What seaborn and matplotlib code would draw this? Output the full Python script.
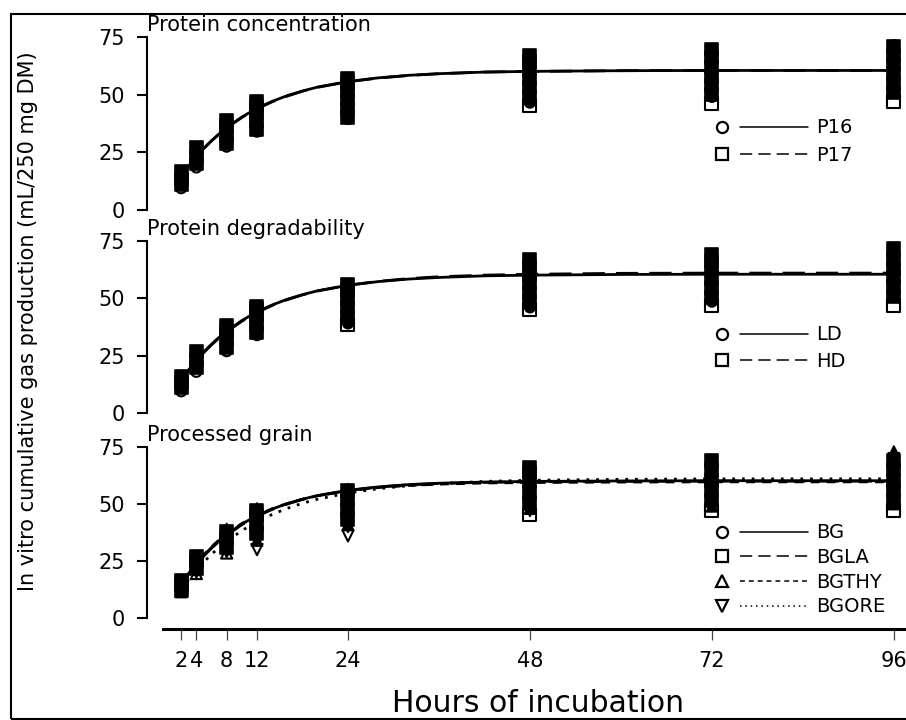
import pandas as pd
import matplotlib
matplotlib.use("Agg")
import matplotlib.pyplot as plt
import seaborn as sns
from matplotlib.lines import Line2D
from matplotlib.patches import Rectangle
from matplotlib.legend_handler import HandlerBase

# sampling times (h)
hours = [2, 4, 8, 12, 24, 48, 72, 96]
hour_labels = ["2", "4", "8", "12", "24", "48", "72", "96"]

# observed gas (mL/250 mg DM), one list per sampling time
p16_obs = [[9.5, 12, 14.5, 16], [18.5, 21, 23.5, 26], [27.5, 30.5, 33.5, 36.5, 38.5],
           [34, 37, 40, 43, 46], [39.5, 43, 46.5, 50, 53.5, 56.5], [46.5, 50, 54, 58, 62, 66],
           [49, 52.5, 56, 60, 64, 68], [54, 57, 60.5, 64, 67.5, 71.5]]
p17_obs = [[11, 13.5, 16.5], [20, 23, 27], [29, 32.5, 36, 39], [35, 38.5, 42, 45, 47],
           [40, 44, 48, 52, 55, 57], [45.5, 49, 53, 57, 61, 64.5, 67],
           [46, 50, 54, 58, 62, 66, 69.5], [47, 51, 55, 59, 63, 67, 71]]
ld_obs = [[9.5, 12, 14.5, 16], [18, 20.5, 23, 26], [27, 30, 33, 36, 38], [34, 37, 40, 43, 46],
          [39, 42.5, 46, 49.5, 53, 56], [46, 50, 54, 58, 62, 66], [48.5, 52, 56, 60, 64, 68.5],
          [53, 56.5, 60, 64, 68, 72]]
hd_obs = [[11, 13.5, 16], [20, 23.5, 27], [28.5, 32, 35.5, 38], [35, 38.5, 42, 45, 46.5],
          [38.5, 42, 46, 50, 53.5, 56], [45, 48.5, 52.5, 56.5, 60.5, 64, 67],
          [47, 50.5, 54.5, 58.5, 62.5, 66, 69], [47, 51, 55, 59, 63, 67, 71.5]]
bg_obs = [[12.5, 15], [21, 24.5], [30, 34, 37], [36, 40, 44], [42, 47, 52, 55],
          [50, 54, 58, 62], [51, 55, 59, 63, 66], [52, 56, 60, 64, 68]]
bgla_obs = [[12, 14.5, 16.5], [21.5, 25, 27], [31, 35, 38], [37, 41, 45, 47], [43, 47.5, 52, 56],
            [45.5, 50, 55, 60, 64, 66], [47, 51.5, 56, 60.5, 65, 69], [47, 51.5, 56, 60.5, 65, 69]]
bgthy_obs = [[11.5, 14, 16.5], [19.5, 23, 27], [28.5, 32, 35.5, 39], [34, 38, 42, 46, 48],
             [41, 45, 49, 53, 56.5], [48, 52, 56, 60, 64], [49, 53, 57, 61, 65, 68],
             [50, 54, 58, 62, 66, 70, 73]]
bgore_obs = [[11.5, 14, 16], [20, 23], [29, 32.5, 36], [30, 34, 38, 42], [36, 40, 44, 48, 52],
             [47, 51, 55, 59, 63], [49, 53, 57, 61, 65], [50, 54, 58, 62, 66, 70]]

# fitted curves
curve_hours = [2, 3, 4, 5, 6, 7, 8, 10, 12, 14, 16, 18, 20, 24, 28, 32, 36, 42, 48, 60, 72, 84, 96]
p16_fit = [14.5, 18.9, 23.0, 26.7, 30.0, 33.0, 35.7, 40.3, 44.1, 47.1, 49.6, 51.6, 53.3, 55.7,
           57.3, 58.4, 59.1, 59.8, 60.1, 60.4, 60.5, 60.5, 60.5]
p17_fit = [14.8, 19.2, 23.2, 26.8, 30.0, 32.9, 35.6, 40.1, 43.9, 46.9, 49.4, 51.5, 53.2, 55.6,
           57.2, 58.3, 59.1, 59.8, 60.1, 60.4, 60.5, 60.5, 60.5]
ld_fit = [14.5, 18.9, 23.0, 26.7, 30.0, 33.0, 35.7, 40.3, 44.1, 47.1, 49.6, 51.6, 53.3, 55.7,
          57.3, 58.4, 59.1, 59.8, 60.1, 60.4, 60.5, 60.5, 60.5]
hd_fit = [14.2, 18.6, 22.7, 26.4, 29.7, 32.7, 35.4, 40.0, 43.8, 46.9, 49.4, 51.5, 53.2, 55.7,
          57.4, 58.6, 59.4, 60.1, 60.5, 60.9, 61.0, 61.0, 61.0]
bg_fit = [15.0, 19.6, 23.8, 27.5, 30.9, 33.9, 36.6, 41.2, 44.9, 47.8, 50.2, 52.1, 53.7, 56.0,
          57.5, 58.5, 59.1, 59.6, 59.9, 60.1, 60.2, 60.2, 60.2]
bgla_fit = [14.8, 19.3, 23.5, 27.2, 30.6, 33.6, 36.3, 40.9, 44.6, 47.6, 50.0, 52.0, 53.6, 55.9,
            57.4, 58.4, 59.0, 59.5, 59.7, 59.9, 60.0, 60.0, 60.0]
bgthy_fit = [15.2, 19.9, 24.1, 27.8, 31.2, 34.2, 36.9, 41.4, 45.0, 47.9, 50.2, 52.1, 53.6, 55.8,
             57.2, 58.1, 58.7, 59.2, 59.4, 59.6, 59.7, 59.7, 59.7]
bgore_fit = [12.5, 17.0, 21.0, 24.6, 27.9, 30.9, 33.6, 38.3, 42.2, 45.4, 48.1, 50.3, 52.1, 54.8,
             56.7, 58.0, 58.9, 59.9, 60.4, 60.8, 61.0, 61.0, 61.0]

titles = ["Protein concentration", "Protein degradability", "Processed grain"]
groups = [["P16", "P17"], ["LD", "HD"], ["BG", "BGLA", "BGTHY", "BGORE"]]
obs_sets = [[p16_obs, p17_obs], [ld_obs, hd_obs], [bg_obs, bgla_obs, bgthy_obs, bgore_obs]]
fit_sets = [[p16_fit, p17_fit], [ld_fit, hd_fit], [bg_fit, bgla_fit, bgthy_fit, bgore_fit]]

markers = {"P16": "o", "P17": "s", "LD": "o", "HD": "s",
           "BG": "o", "BGLA": "s", "BGTHY": "^", "BGORE": "v"}
dashes = {"P16": "", "P17": (8, 4), "LD": "", "HD": (8, 4),
          "BG": "", "BGLA": (8, 4), "BGTHY": (3.2, 2.6), "BGORE": (1, 2.5)}
area = {"o": 55, "s": 88, "^": 65, "v": 65}


def long_obs(names, series):
    rows = []
    for name, per_hour in zip(names, series):
        for h, vals in zip(hours, per_hour):
            for v in vals:
                rows.append((name, h, v))
    return pd.DataFrame(rows, columns=["treatment", "hour", "gas"])


def long_fit(names, series):
    rows = []
    for name, vals in zip(names, series):
        for h, v in zip(curve_hours, vals):
            rows.append((name, h, v))
    return pd.DataFrame(rows, columns=["treatment", "hour", "gas"])


class MarkerLineHandler(HandlerBase):
    # marker on the left, line sample after it
    def create_artists(self, legend, orig, xd, yd, w, h, fs, trans):
        y = h / 2 - yd
        x0 = -xd
        mk = Line2D([x0 + 0.07 * w], [y])
        mk.update_from(orig)
        mk.set_linestyle("none")
        mk.set_transform(trans)
        ln = Line2D([x0 + 0.26 * w, x0 + w], [y, y])
        ln.update_from(orig)
        ln.set_marker("")
        ln.set_transform(trans)
        return [mk, ln]


sns.set_style("ticks")
plt.rcParams["font.family"] = ["DejaVu Sans"]
plt.rcParams["text.color"] = "black"
plt.rcParams["axes.labelcolor"] = "black"

fig = plt.figure(figsize=(9.06, 7.2), dpi=100)
boxes = [[0.1623, 0.7083, 0.8377, 0.2403],
         [0.1623, 0.4264, 0.8377, 0.2389],
         [0.1623, 0.1417, 0.8377, 0.2375]]
leg_y = [0.529, 0.509, 0.553]
leg_sp = [0.44, 0.39, 0.29]

for i in range(3):
    ax = fig.add_axes(boxes[i])
    names = groups[i]
    obs = long_obs(names, obs_sets[i])
    fit = long_fit(names, fit_sets[i])

    sns.lineplot(data=fit, x="hour", y="gas", style="treatment", style_order=names,
                 dashes=dashes, color="black", lw=2, errorbar=None, legend=False,
                 ax=ax, zorder=2)
    sizes = {n: area[markers[n]] for n in names}
    # lowest reading at each time stays open, the rest pile up into black columns
    low_idx = obs.groupby("hour")["gas"].idxmin()
    low = obs.loc[low_idx]
    rest = obs.drop(index=low_idx)
    sns.scatterplot(data=low, x="hour", y="gas", style="treatment", style_order=names,
                    markers=markers, size="treatment", sizes=sizes, color="white",
                    edgecolor="black", linewidth=1.5, legend=False, ax=ax,
                    clip_on=False, zorder=3)
    sns.scatterplot(data=rest, x="hour", y="gas", style="treatment", style_order=names,
                    markers=markers, size="treatment", sizes=sizes, color="black",
                    edgecolor="black", linewidth=1.2, legend=False, ax=ax,
                    clip_on=False, zorder=4)

    ax.set_xlim(-2.5, 97.6)
    ax.set_ylim(0, 75)
    ax.set_yticks([0, 25, 50, 75])
    ax.set_xlabel("")
    ax.set_ylabel("")
    sns.despine(ax=ax)
    ax.spines["left"].set_linewidth(1.5)
    ax.spines["left"].set_color("black")
    ax.tick_params(axis="y", direction="out", length=7, width=1.5, pad=9,
                   labelsize=15, color="black", labelcolor="black")
    if i < 2:
        ax.spines["bottom"].set_visible(False)
        ax.tick_params(axis="x", bottom=False, labelbottom=False)
    else:
        ax.spines["bottom"].set_position(("outward", 8))
        ax.spines["bottom"].set_bounds(-0.4, 97.6)
        ax.spines["bottom"].set_linewidth(2.2)
        ax.spines["bottom"].set_color("black")
        ax.set_xticks(hours)
        ax.set_xticklabels(hour_labels)
        ax.tick_params(axis="x", direction="out", length=8, width=0.9, pad=8,
                       labelsize=15, color="#444444", labelcolor="black")

    ax.annotate(titles[i], xy=(0, 1), xycoords="axes fraction", xytext=(0, 4.5),
                textcoords="offset points", ha="left", va="baseline", fontsize=15)

    handles = [Line2D([], [], marker=markers[n], ms=8, mfc="white", mec="black", mew=1.6,
                      color="black", lw=1.1,
                      linestyle="-" if dashes[n] == "" else (0, dashes[n]))
               for n in names]
    ax.legend(handles, names, handler_map={Line2D: MarkerLineHandler()},
              loc="upper left", bbox_to_anchor=(0.7497, leg_y[i]), borderaxespad=0,
              borderpad=0, frameon=False, fontsize=14, handlelength=4.74,
              handletextpad=0.41, labelspacing=leg_sp[i])

fig.text(0.031, 0.554, "In vitro cumulative gas production (mL/250 mg DM)",
         rotation=90, ha="center", va="center", fontsize=15)
fig.text(0.594, 0.011, "Hours of incubation", ha="center", va="baseline", fontsize=21.5)
fig.add_artist(Rectangle((11 / 906, 1.5 / 720), 1.0, (720 - 14 - 1.5) / 720,
                         transform=fig.transFigure, fill=False, lw=1.5, ec="black"))

fig.savefig("out.png", dpi=100)
